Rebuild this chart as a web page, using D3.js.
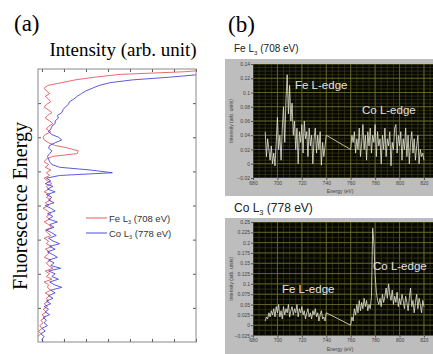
<!DOCTYPE html>
<html><head><meta charset="utf-8">
<script src="https://cdn.jsdelivr.net/npm/d3@7"></script>
<style>body{margin:0;background:#fff}svg{display:block}</style>
</head><body>
<script>
// ---------- Panel (a) data: intensity vs fluorescence energy (arb.) ----------
const energyStepA = 0.08;
const feA = [8.0,6.5,3.5,2.4,1.5,0.9,0.27,0.1,
 0.2,0.35,0.15,0.3,0.4,0.2,0.1,0.3,0.45,0.25,0.15,0.35,0.5,0.3,0.2,0.4,0.15,0.05,0.1,
 0.3,0.6,1.2,1.65,1.6,0.5,0.2,
 0.1,0.3,0.15,0.4,0.2,0.35,0.1,0.25,0.45,0.2,
 0.3,0.1,0.35,0.2,0.4,0.15,0.3,0.05,0.25,0.4,
 0.2,0.35,0.1,0.3,0.45,0.15,0.25,0.4,0.1,0.3,
 0.2,0.45,0.15,0.35,0.25,0.1,0.4,0.2,0.3,0.5,
 0.15,0.35,0.2,0.45,0.1,0.3,0.25,0.4,0.15,0.35,
 0.2,0.3,0.1,0.25,0.05,0.2,0.0,0.15,-0.05,0.05,
 -0.1,0.0,-0.15,-0.05,-0.2,-0.25,-0.3];
const coA = [9,9,7.2,5.8,4.1,3.1,2.6,2.3,2.0,1.8,
 1.6,1.45,1.25,1.2,1.05,0.95,0.9,0.7,0.75,0.6,
 0.6,0.45,0.4,0.3,0.45,0.75,0.9,0.6,0.35,0.3,
 0.45,0.35,0.25,0.3,0.35,0.45,0.8,2.2,3.2,0.8,
 0.2,
 0.4,0.15,0.5,0.25,0.6,0.2,0.45,0.3,0.55,0.15,
 0.4,0.6,0.25,0.5,0.3,0.7,0.35,0.55,0.2,0.45,
 0.65,0.3,0.5,0.8,0.35,0.6,0.25,0.5,0.7,0.3,
 0.55,0.4,0.85,0.3,0.6,0.45,0.75,0.35,0.55,0.9,
 0.4,0.6,0.3,0.5,0.2,0.4,0.1,0.3,0.15,0.35,
 0.05,0.2,0.1,0.25,0.0,0.15,-0.05,0.1,0.0,0.05];
const legendA = ["Fe L|3| (708 eV)", "Co L|3| (778 eV)"];
const xTicksA = [0,1,2,3,4,5,6,7];
const yTicksA = [1,2,3,4,5,6,7];

// ---------- Panel (b) data: intensity vs energy (eV) ----------
const seg1Start = 690, seg2Start = 760;
const feB1 = [0.045,0.01,0.035,0.02,0.005,0.025,0.0,0.015,-0.003,0.03,
 0.065,0.02,0.04,0.005,0.05,0.08,0.03,0.09,0.125,0.07,
 0.11,0.06,0.085,0.04,0.06,0.02,0.05,0.0,0.045,0.03,
 0.055,0.015,0.06,0.035,0.045,0.01,0.05,0.025,0.04,0.0,
 0.035,0.05,0.015,0.04,0.02,0.045,-0.002,0.03,0.01,0.025,
 0.04];
const feB2 = [0.02,0.04,0.03,0.045,0.015,0.035,0.02,0.05,0.01,0.03,
 0.055,0.02,0.04,0.005,0.045,0.025,0.05,0.015,0.04,0.03,
 0.055,0.01,0.045,0.025,0.035,0.0,0.04,0.02,0.05,0.01,
 0.035,0.025,0.045,-0.003,0.03,0.02,0.05,0.055,0.015,0.04,
 0.025,0.045,0.005,0.035,0.02,0.05,0.01,0.04,0.0,0.03,
 0.045,0.015,0.035,0.005,0.025,0.04,0.0,0.02,0.01,0.015,
 0.005];
const coB1 = [0.01,0.02,0.015,0.03,0.02,0.035,0.025,0.04,0.02,0.045,
 0.03,0.05,0.02,0.035,0.015,0.045,0.025,0.04,0.03,0.05,
 0.02,0.035,0.045,0.025,0.04,0.03,0.05,0.02,0.04,0.03,
 0.045,0.025,0.035,0.015,0.03,0.04,0.02,0.03,0.015,0.035,
 0.025,0.04,0.02,0.03,0.01,0.025,0.035,0.015,0.02,0.01,
 0.03];
const coB2 = [0.0,0.02,0.01,0.04,0.025,0.05,0.03,0.06,0.035,0.055,
 0.04,0.065,0.045,0.06,0.035,0.05,0.04,0.07,0.235,0.2,
 0.12,0.08,0.06,0.05,0.065,0.045,0.075,0.055,0.07,0.09,
 0.065,0.1,0.075,0.06,0.085,0.05,0.07,0.055,0.08,0.045,
 0.065,0.05,0.075,0.06,0.04,0.07,0.055,0.035,0.065,0.09,
 0.045,0.06,0.03,0.055,0.075,0.04,0.065,0.05,0.03,0.06,
 0.045];
const xTicksB = [680,700,720,740,760,780,800,820];
const xGridB = [680,700,720,740,760,780,800,820,840];
const yTicksTop = [-0.02,0,0.02,0.04,0.06,0.08,0.1,0.12,0.14];
const yTicksBot = [-0.025,0,0.025,0.05,0.075,0.1,0.125,0.15,0.175,0.2,0.225,0.25];

const W = 433, H = 354;
const svg = d3.select("body").append("svg").attr("width", W).attr("height", H);
const serif = "Liberation Serif, Times New Roman, serif";
const sans = "Liberation Sans, Arial, sans-serif";

// ================= Panel (a) =================
const xA = d3.scaleLinear().domain([-0.18, 7]).range([38, 196]);
const yA = d3.scaleLinear().domain([0, 8]).range([69, 342]);
svg.append("defs").append("clipPath").attr("id", "clipA")
  .append("rect").attr("x", 38).attr("y", 69).attr("width", 158).attr("height", 273);

svg.append("text").attr("x", 14).attr("y", 31).attr("font-family", serif)
  .attr("font-size", 23).text("(a)");
svg.append("text").attr("x", 123).attr("y", 56).attr("text-anchor", "middle")
  .attr("font-family", serif).attr("font-size", 19).text("Intensity (arb. unit)");
svg.append("text").attr("transform", "translate(27,206) rotate(-90)")
  .attr("text-anchor", "middle").attr("font-family", serif).attr("font-size", 20)
  .text("Fluorescence Energy");

const gA = svg.append("g");
const tickLen = 3;
gA.append("g").attr("transform", "translate(0,342)")
  .call(d3.axisBottom(xA).tickValues(xTicksA).tickSize(-tickLen).tickFormat(""));
gA.append("g").attr("transform", "translate(0,69)")
  .call(d3.axisTop(xA).tickValues(xTicksA).tickSize(-tickLen).tickFormat(""));
gA.append("g").attr("transform", "translate(38,0)")
  .call(d3.axisLeft(yA).tickValues(yTicksA).tickSize(-tickLen).tickFormat(""));
gA.append("g").attr("transform", "translate(196,0)")
  .call(d3.axisRight(yA).tickValues(yTicksA).tickSize(-tickLen).tickFormat(""));
gA.selectAll(".domain").remove();
gA.selectAll(".tick line").attr("stroke", "#555");

const lineA = d3.line().x(d => xA(d)).y((d, i) => yA(i * energyStepA));
const curves = svg.append("g").attr("clip-path", "url(#clipA)");
curves.append("path").datum(feA).attr("d", lineA).attr("fill", "none")
  .attr("stroke", "#e8595f").attr("stroke-width", 0.9);
curves.append("path").datum(coA).attr("d", lineA).attr("fill", "none")
  .attr("stroke", "#4a4ad6").attr("stroke-width", 0.9);

svg.append("rect").attr("x", 38).attr("y", 69).attr("width", 158).attr("height", 273)
  .attr("fill", "none").attr("stroke", "#8a8a8a").attr("stroke-width", 1);

const legColors = ["#e8595f", "#4a4ad6"];
legendA.forEach((lab, k) => {
  const yy = 218 + k * 15;
  svg.append("line").attr("x1", 86).attr("x2", 107).attr("y1", yy).attr("y2", yy)
    .attr("stroke", legColors[k]).attr("stroke-width", 1);
  const parts = lab.split("|");
  const t = svg.append("text").attr("x", 109).attr("y", yy + 3.5)
    .attr("font-family", sans).attr("font-size", 9.5).attr("fill", "#333");
  t.append("tspan").text(parts[0]);
  t.append("tspan").attr("font-size", 5.5).attr("dy", 2).text(parts[1]);
  t.append("tspan").attr("dy", -2).text(parts[2]);
});

// ================= Panel (b) =================
svg.append("text").attr("x", 228).attr("y", 32).attr("font-family", serif)
  .attr("font-size", 23).text("(b)");

const xB = d3.scaleLinear().domain([680, 840]).range([253, 448.4]);

function panel(opts) {
  const { frameTop, plotTop, plotBot, yDom, yTicks, minorY, title, titleSize, titleY,
          s1, s2, labels, tickFmt, id } = opts;
  const yS = d3.scaleLinear().domain(yDom).range([plotBot, plotTop]);
  const g = svg.append("g");
  g.append("rect").attr("x", 225).attr("y", frameTop).attr("width", W - 225)
    .attr("height", (id === "b" ? H : plotBot + 18) - frameTop).attr("fill", "#bdbdbd");
  g.append("rect").attr("x", 253).attr("y", plotTop).attr("width", W - 253)
    .attr("height", plotBot - plotTop).attr("fill", "#080803");
  const clipId = "clip" + id;
  svg.select("defs").append("clipPath").attr("id", clipId).append("rect")
    .attr("x", 253).attr("y", plotTop).attr("width", W - 253).attr("height", plotBot - plotTop);
  const grid = g.append("g").attr("clip-path", `url(#${clipId})`);
  const minorX = d3.range(680, 845, 5);
  grid.selectAll(".mx").data(minorX).join("line")
    .attr("x1", d => xB(d)).attr("x2", d => xB(d)).attr("y1", plotTop).attr("y2", plotBot)
    .attr("stroke", "#3b3b16").attr("stroke-width", 0.7);
  grid.selectAll(".my").data(minorY).join("line")
    .attr("y1", d => yS(d)).attr("y2", d => yS(d)).attr("x1", 253).attr("x2", W)
    .attr("stroke", "#3b3b16").attr("stroke-width", 0.7);
  grid.selectAll(".Mx").data(xGridB).join("line")
    .attr("x1", d => xB(d)).attr("x2", d => xB(d)).attr("y1", plotTop).attr("y2", plotBot)
    .attr("stroke", "#6e6e2c").attr("stroke-width", 0.8);
  grid.selectAll(".My").data(yTicks).join("line")
    .attr("y1", d => yS(d)).attr("y2", d => yS(d)).attr("x1", 253).attr("x2", W)
    .attr("stroke", "#6e6e2c").attr("stroke-width", 0.8);
  const ax = g.append("g").attr("transform", `translate(0,${plotBot})`)
    .call(d3.axisBottom(xB).tickValues(xTicksB).tickSize(2).tickPadding(1));
  const ay = g.append("g").attr("transform", "translate(253,0)")
    .call(d3.axisLeft(yS).tickValues(yTicks).tickSize(2).tickPadding(1).tickFormat(tickFmt));
  [ax, ay].forEach(a => {
    a.selectAll(".domain").remove();
    a.selectAll(".tick line").attr("stroke", "#555");
    a.selectAll("text").attr("font-family", sans).attr("font-size", 5).attr("fill", "#444");
  });
  g.append("text").attr("x", 340).attr("y", plotBot + 15).attr("text-anchor", "middle")
    .attr("font-family", sans).attr("font-size", 5).attr("fill", "#444").text("Energy (eV)");
  g.append("text").attr("transform", `translate(233,${(plotTop + plotBot) / 2}) rotate(-90)`)
    .attr("text-anchor", "middle").attr("font-family", sans).attr("font-size", 5)
    .attr("fill", "#444").text("Intensity (arb. units)");
  const pts = s1.map((v, i) => [seg1Start + i, v]).concat(s2.map((v, i) => [seg2Start + i, v]));
  grid.append("path").datum(pts)
    .attr("d", d3.line().x(d => xB(d[0])).y(d => yS(d[1])))
    .attr("fill", "none").attr("stroke", "#e9e9d6").attr("stroke-width", 0.8);
  labels.forEach(L => {
    g.append("text").attr("x", L.x).attr("y", L.y).attr("font-family", sans)
      .attr("font-size", 11.5).attr("fill", "#e2e2e2").text(L.t);
  });
  const parts = title.split("|");
  const t = svg.append("text").attr("x", 234).attr("y", titleY).attr("font-family", sans)
    .attr("font-size", titleSize).attr("fill", "#222");
  t.append("tspan").text(parts[0]);
  t.append("tspan").attr("font-size", titleSize * 0.62).attr("dy", titleSize * 0.25).text(parts[1]);
  t.append("tspan").attr("dy", -titleSize * 0.25).text(parts[2]);
}

panel({ id: "a", frameTop: 59, plotTop: 64, plotBot: 178, yDom: [-0.02, 0.14],
  yTicks: yTicksTop, minorY: d3.range(-0.02, 0.1401, 0.005),
  title: "Fe L|3| (708 eV)", titleSize: 10, titleY: 52,
  s1: feB1, s2: feB2, tickFmt: d3.format("~g"),
  labels: [{ t: "Fe L-edge", x: 295, y: 89 }, { t: "Co L-edge", x: 362, y: 114 }] });

panel({ id: "b", frameTop: 218, plotTop: 222, plotBot: 335.5, yDom: [-0.025, 0.25],
  yTicks: yTicksBot, minorY: d3.range(-0.025, 0.2501, 0.0125),
  title: "Co L|3| (778 eV)", titleSize: 12, titleY: 212,
  s1: coB1, s2: coB2, tickFmt: d3.format("~g"),
  labels: [{ t: "Co L-edge", x: 373, y: 270 }, { t: "Fe L-edge", x: 282, y: 293 }] });
</script>
</body></html>
